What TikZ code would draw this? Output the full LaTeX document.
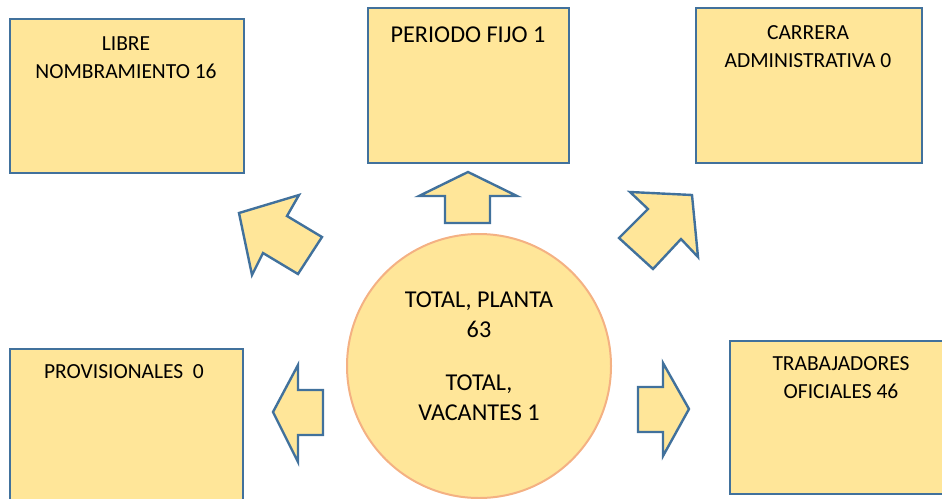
\documentclass[tikz,border=0pt]{standalone}
\usepackage{fontspec}
\setmainfont{Carlito}
\definecolor{fillY}{HTML}{FFE699}
\definecolor{edgeB}{HTML}{41719C}
\definecolor{edgeO}{HTML}{F4B183}
\begin{document}
\begin{tikzpicture}[x=1pt,y=-1pt,
  box/.style={draw=edgeB, fill=fillY, line width=2.4pt, anchor=north west, inner sep=0pt},
  circ/.style={circle, draw=edgeO, fill=fillY, line width=2pt, inner sep=0pt, minimum size=264pt},
  blockarrow/.style={draw=edgeB, fill=fillY, line width=2.4pt, line join=miter},
  lbl/.style={align=center, inner sep=0pt, text=black, font=\fontsize{21.5}{28}\selectfont},
  biglbl/.style={align=center, inner sep=0pt, text=black, font=\fontsize{24.2}{30}\selectfont}]
\useasboundingbox (0,0) rectangle (942,498);
\clip (0,0) rectangle (942,498);
% boxes
\node[box, minimum width=234pt, minimum height=154pt] (libre) at (9,18) {};
\node[box, minimum width=201pt, minimum height=155pt] (fijo) at (367,7) {};
\node[box, minimum width=226pt, minimum height=155pt] (carrera) at (695,7) {};
\node[box, minimum width=233pt, minimum height=170pt] (prov) at (9,348) {};
\node[box, minimum width=230pt, minimum height=153pt] (trab) at (729,340) {};
% labels
\node[lbl] (libreT) at (126,58) {LIBRE\\NOMBRAMIENTO 16};
\node[biglbl] (fijoT) at (468,35) {PERIODO FIJO 1};
\node[lbl] (carreraT) at (808,47) {CARRERA\\ADMINISTRATIVA 0};
\node[lbl] (provT) at (124,372) {PROVISIONALES\ \ 0};
\node[lbl] (trabT) at (841,378) {TRABAJADORES\\OFICIALES 46};
% centre circle
\node[circ] (tot) at (479,366) {};
\node[biglbl] (totA) at (479,315) {TOTAL, PLANTA\\63};
\node[biglbl] (totB) at (479,398) {TOTAL,\\VACANTES 1};
% block arrows
\draw[blockarrow] (468,172) -- (517,196) -- (490,196) -- (490,223) -- (445,223) -- (445,196) -- (419,196) -- cycle;
\draw[blockarrow] (239,213) -- (299,195) -- (287,216) -- (322,237) -- (298,274) -- (263,253) -- (252,275) -- cycle;
\draw[blockarrow] (692,195) -- (630,192) -- (648,209) -- (619,238) -- (653,269) -- (681,239) -- (698,257) -- cycle;
\draw[blockarrow] (273,412) -- (298,365) -- (298,390) -- (323,390) -- (323,435) -- (298,435) -- (298,462) -- cycle;
\draw[blockarrow] (689,409) -- (663,363) -- (663,387) -- (638,387) -- (638,432) -- (663,432) -- (663,456) -- cycle;
\end{tikzpicture}
\end{document}
